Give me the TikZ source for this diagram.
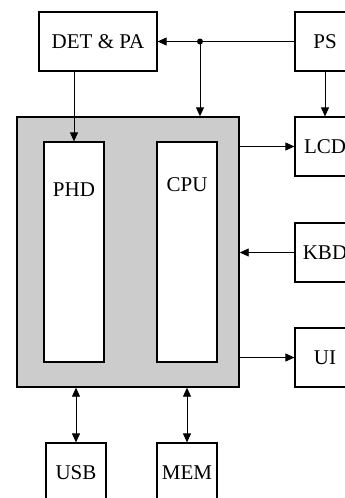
\documentclass[tikz,border=0pt]{standalone}
\usepackage{fontspec}
\setmainfont{Liberation Serif}
\usetikzlibrary{arrows.meta,positioning}
\tikzset{
  blk/.style={draw,line width=1.2pt,fill=white,minimum width=60pt,minimum height=59pt,inner sep=0pt,font=\fontsize{21}{24}\selectfont},
  tall/.style={blk,minimum height=220pt},
  arr/.style={line width=0.9pt,-{Triangle[length=9pt,width=8pt]}},
  darr/.style={line width=0.9pt,{Triangle[length=9pt,width=8pt]}-{Triangle[length=9pt,width=8pt]}}
}
\begin{document}
\begin{tikzpicture}[x=1pt,y=-1pt]
\useasboundingbox (0,0) rectangle (345,498);
% top row
\node[blk,minimum width=118pt] (det) at (98,41.5) {DET \& PA};
\node[blk] (ps) at (325,41.5) {PS};
% main board
\node[draw,line width=1.4pt,fill=black!20,minimum width=222pt,minimum height=270pt] (main) at (128,252) {};
\node[tall,label={[anchor=north,inner sep=0pt,yshift=-41pt,font=\fontsize{21}{24}\selectfont]north:PHD}] (phd) at (74,252) {};
\node[tall,label={[anchor=north,inner sep=0pt,yshift=-36pt,font=\fontsize{21}{24}\selectfont]north:CPU}] (cpu) at (187,252) {};
% right column
\node[blk] (lcd) at (325,146.5) {LCD};
\node[blk] (kbd) at (325,252.5) {KBD};
\node[blk] (ui) at (325,357.5) {UI};
% bottom row
\node[blk] (usb) at (76,472.5) {USB};
\node[blk] (mem) at (187,472.5) {MEM};
% connections
\coordinate (split) at (200,41.5);
\draw[arr] (ps) -- (det);
\fill (split) circle (3pt);
\draw[arr] (split) -- (split |- main.north);
\draw[arr] (phd.north |- det.south) -- (phd.north);
\draw[arr] (ps) -- (lcd);
\draw[arr] (main.east |- lcd) -- (lcd.west);
\draw[arr] (kbd.west) -- (main.east |- kbd);
\draw[arr] (main.east |- ui) -- (ui.west);
\draw[darr] (usb.north) -- (usb.north |- main.south);
\draw[darr] (mem.north) -- (mem.north |- main.south);
\end{tikzpicture}
\end{document}
